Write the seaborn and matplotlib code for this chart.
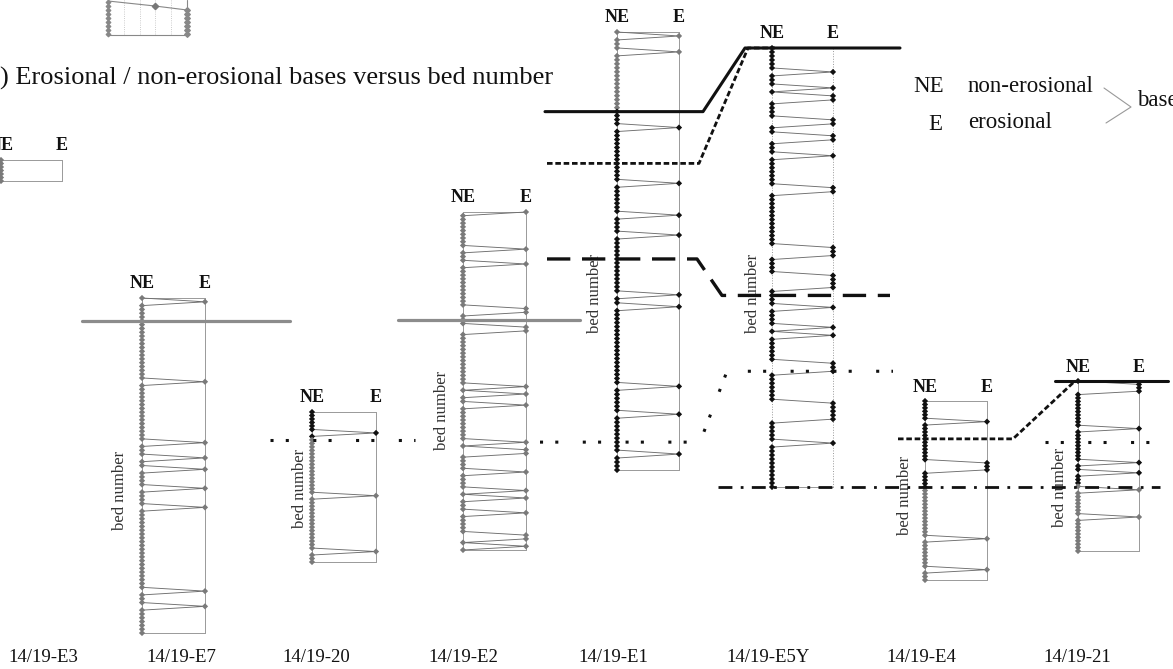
import numpy as np
import pandas as pd
import matplotlib
matplotlib.use("Agg")
import matplotlib.pyplot as plt
import seaborn as sns

# sections and their bed logs (bed number counted from the top of each log)
sections = ["14/19-E3", "14/19-E7", "14/19-20", "14/19-E2",
            "14/19-E1", "14/19-E5Y", "14/19-E4", "14/19-21"]
n_beds = [6, 88, 43, 91, 110, 110, 52, 50]
erosional = [
    [],
    [1, 22, 38, 42, 45, 50, 55, 77, 81],
    [6, 24, 40],
    [0, 10, 14, 26, 27, 31, 32, 47, 49, 52, 62, 64, 65, 70, 75, 77, 81, 87, 88, 90],
    [1, 5, 24, 38, 46, 51, 66, 69, 89, 96, 106],
    [6, 10, 12, 13, 18, 19, 22, 23, 27, 35, 36, 50, 51, 52, 57, 58, 59, 60,
     65, 70, 72, 79, 80, 81, 89, 90, 91, 92, 93, 99],
    [6, 18, 19, 20, 40, 49],
    [1, 2, 3, 14, 24, 27, 32, 40],
]
# beds plotted in black (first, last+1); the others are grey
black_beds = [None, None, (0, 8), None, (20, 111), (0, 111), (0, 26), (0, 31)]

# correlation lines: (x, section index, bed number)
correlations = [
    ("grey", [(82, 1, 6), (290, 1, 6)]),
    ("grey", [(398, 3, 29), (580, 3, 29)]),
    ("solid", [(545, 4, 20), (703, 4, 20), (745, 5, 0), (900, 5, 0)]),
    ("short", [(547, 4, 33), (699, 4, 33), (748, 5, 0), (775, 5, 0)]),
    ("long", [(547, 4, 57), (697, 4, 57), (722, 5, 62), (890, 5, 62)]),
    ("dots", [(270, 2, 8), (415, 2, 8)]),
    ("dots", [(540, 4, 103), (700, 4, 103), (727, 5, 81), (893, 5, 81)]),
    ("dots", [(1045, 7, 18), (1150, 7, 18)]),
    ("dashdot", [(718, 5, 110), (1160, 5, 110)]),
    ("short", [(898, 6, 11), (1013, 6, 11), (1075, 7, 0)]),
    ("solid", [(1055, 7, 0), (1168, 7, 0)]),
]

# bit of the previous panel at the top left
frag_left_y = [2, 6, 10, 14, 18, 22, 26, 30, 34]
frag_right_y = [10, 14, 18, 22, 26, 30, 34]
frag_trend_x = [108, 155, 187]
frag_trend_y = [1, 6, 10]
frag_grid_x = [124, 140, 155, 171]

# layout (pixels)
x_ne = [1, 142, 312, 463, 617, 772, 925, 1078]
x_e = [62, 205, 376, 526, 679, 833, 987, 1139]
y_top = [160, 298, 412, 212, 32, 48, 401, 381]
y_bot = [181, 633, 562, 550, 470, 487, 580, 551]
label_x = [43, 181, 316, 463, 613, 768, 921, 1077]
bednum_xy = [None, (120, 490), (300, 488), (442, 410), (595, 293),
             (753, 293), (905, 495), (1060, 487)]

styles = {
    "grey": dict(color="#8c8c8c", lw=2.3, ls="-"),
    "solid": dict(color="#111111", lw=2.2, ls="-"),
    "short": dict(color="#111111", lw=2.0, ls=(0, (2, 1))),
    "long": dict(color="#111111", lw=2.4, ls=(0, (7, 3.5))),
    "dots": dict(color="#111111", lw=2.2, ls=(0, (1, 4, 1, 8))),
    "dashdot": dict(color="#111111", lw=2.0, ls=(0, (5, 3, 1, 3))),
}


def bed_y(i, bed):
    return y_top[i] + bed * (y_bot[i] - y_top[i]) / n_beds[i]


sns.set_theme(style="white")
plt.rcParams["font.family"] = ["Liberation Serif", "DejaVu Serif"]

fig = plt.figure(figsize=(11.73, 6.69), dpi=100)
ax = fig.add_axes([0, 0, 1, 1])

# fragment of the panel above
ax.plot([frag_trend_x[0], frag_trend_x[0]], [0, 35], color="#888", lw=0.8)
ax.plot([frag_trend_x[-1], frag_trend_x[-1]], [0, 35], color="#888", lw=0.8)
ax.plot([frag_trend_x[0], frag_trend_x[-1]], [35, 35], color="#888", lw=0.8)
for gx in frag_grid_x:
    ax.plot([gx, gx], [0, 35], color="#bbb", lw=0.6, ls=":")
ax.plot(frag_trend_x, frag_trend_y, color="#888", lw=0.8)
ax.scatter([frag_trend_x[1]], [frag_trend_y[1]], s=10, marker="D", color="#777", zorder=3)
ax.scatter([frag_trend_x[0]] * len(frag_left_y), frag_left_y, s=5, marker="D", color="#888")
ax.scatter([frag_trend_x[-1]] * len(frag_right_y), frag_right_y, s=8, marker="D", color="#888")

# bed logs
rows = []
for i, name in enumerate(sections):
    beds = np.arange(n_beds[i] + 1)
    is_e = np.isin(beds, erosional[i])
    xs = np.where(is_e, x_e[i], x_ne[i])
    ys = np.array([bed_y(i, b) for b in beds])
    box_ls = ":" if name == "14/19-E5Y" else "-"
    ax.plot([x_ne[i], x_ne[i]], [y_top[i], y_bot[i]], color="#999", lw=0.7, ls=box_ls)
    ax.plot([x_e[i], x_e[i]], [y_top[i], y_bot[i]], color="#999", lw=0.7, ls=box_ls)
    ax.plot([x_ne[i], x_e[i]], [y_top[i], y_top[i]], color="#999", lw=0.7)
    ax.plot([x_ne[i], x_e[i]], [y_bot[i], y_bot[i]], color="#999", lw=0.7)
    sns.lineplot(x=xs, y=ys, sort=False, estimator=None, color="#6e6e6e",
                 linewidth=0.65, ax=ax)
    for b, xv, yv in zip(beds, xs, ys):
        rng = black_beds[i]
        tone = "black" if rng is not None and rng[0] <= b < rng[1] else "grey"
        rows.append(dict(x=xv, y=yv, tone=tone))

    ax.text(x_ne[i], y_top[i] - 14, "NE", ha="center", va="center",
            fontsize=13, fontweight="bold", color="#111")
    ax.text(x_e[i], y_top[i] - 14, "E", ha="center", va="center",
            fontsize=13, fontweight="bold", color="#111")
    ax.text(label_x[i], 657, name, ha="center", va="center", fontsize=13.5, color="#111")
    if bednum_xy[i] is not None:
        ax.text(*bednum_xy[i], "bed number", rotation=90, ha="center", va="center",
                fontsize=12, color="#333")

pts = pd.DataFrame(rows)
sns.scatterplot(data=pts, x="x", y="y", hue="tone",
                palette={"black": "#111111", "grey": "#7a7a7a"},
                marker="D", s=10, linewidth=0, legend=False, ax=ax, zorder=2)

# correlation lines
for kind, anchors in correlations:
    cx = [a[0] for a in anchors]
    cy = [bed_y(a[1], a[2]) for a in anchors]
    st = styles[kind]
    ax.plot(cx, cy, color=st["color"], lw=st["lw"], ls=st["ls"], zorder=4)

# title and legend
ax.text(0, 78, ") Erosional / non-erosional bases versus bed number",
        ha="left", va="center", fontsize=19, color="#111")
ax.text(913, 87, "NE", ha="left", va="center", fontsize=16.5, color="#111")
ax.text(968, 86, "non-erosional", ha="left", va="center", fontsize=16.5, color="#111")
ax.text(928, 125, "E", ha="left", va="center", fontsize=16.5, color="#111")
ax.text(968, 122, "erosional", ha="left", va="center", fontsize=16.5, color="#111")
ax.plot([1104, 1131, 1106], [88, 107, 123], color="#999", lw=0.8)
ax.text(1137, 101, "base", ha="left", va="center", fontsize=16.5, color="#111")

ax.set_xlim(0, 1173)
ax.set_ylim(669, 0)
ax.axis("off")
fig.savefig("out.png", dpi=100)
